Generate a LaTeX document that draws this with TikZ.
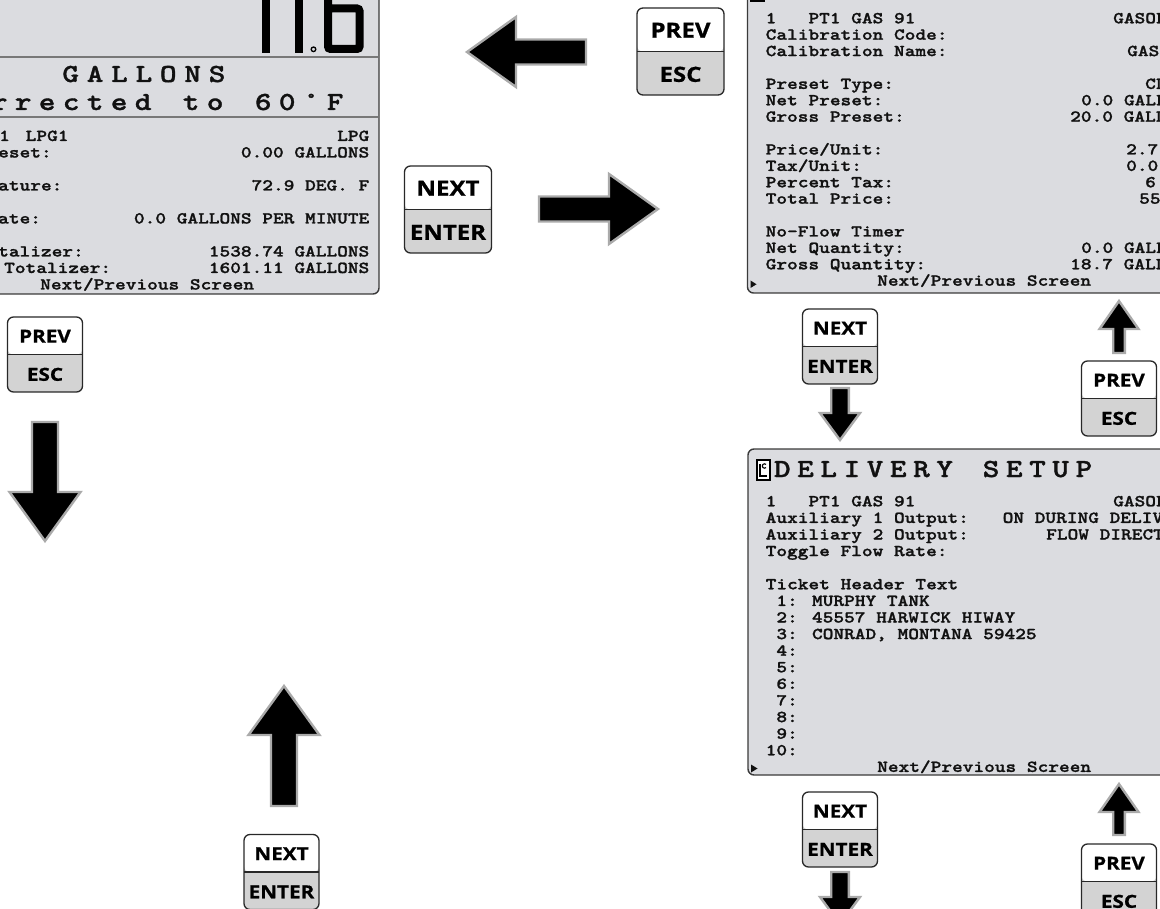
\documentclass[tikz,border=0pt]{standalone}
\usepackage{fontspec}
\usetikzlibrary{calc}
\newfontfamily\scrfont{lmmonolt10-bold}[Extension=.otf, FakeStretch=1.22, FakeBold=1.3]
\newfontfamily\keyfont{Open Sans}[FakeStretch=1.15, FakeBold=0.8]
\definecolor{scrbg}{RGB}{219,220,224}
\definecolor{scrline}{RGB}{58,58,58}
\definecolor{divgray}{RGB}{120,120,120}
\definecolor{lcdtext}{RGB}{17,17,17}
\definecolor{keygray}{RGB}{211,211,211}
\definecolor{keyline}{RGB}{40,40,40}
\definecolor{arrowgray}{RGB}{170,170,170}
\makeatletter
\newcommand\spaced[2]{\def\sp@w{#1}\sp@loop#2\relax}
\def\sp@loop#1{\ifx#1\relax\else\makebox[\sp@w][c]{#1}\expandafter\sp@loop\fi}
\makeatother
\tikzset{
  screen/.style={fill=scrbg, draw=scrline, line width=1.4pt, rounded corners=6pt},
  divider/.style={draw=divgray, line width=1.3pt},
  lcd/.style={font=\scrfont\fontsize{16.7pt}{16.5pt}\selectfont, text=lcdtext, inner sep=0pt, anchor=base west},
  lcdr/.style={lcd, anchor=base east},
  lcdtitle/.style={font=\scrfont\fontsize{26pt}{25pt}\selectfont, text=lcdtext, inner sep=0pt, anchor=base west},
  keybox/.style={draw=keyline, line width=1.3pt, rounded corners=6pt, fill=keygray, inner sep=0pt,
    path picture={\fill[white] (path picture bounding box.north west) rectangle (path picture bounding box.east);
      \draw[keyline, line width=1.1pt] (path picture bounding box.west) -- (path picture bounding box.east);}},
  keytxt/.style={text=black, inner sep=0pt},
  blockarrow/.style={fill=black, draw=arrowgray, line width=2.4pt, line join=miter},
}
\newcommand\keypad[6]{%
  \node[keybox, minimum width=#3pt, minimum height=#3pt] (#1) at (#2) {};
  \node[keytxt, font=\keyfont\bfseries\fontsize{#4pt}{#4pt}\selectfont] (#1-up) at ($(#1.center)!0.5!(#1.north)+(0,0.8)$) {#5};
  \node[keytxt, font=\keyfont\bfseries\fontsize{#4pt}{#4pt}\selectfont] (#1-dn) at ($(#1.center)!0.5!(#1.south)+(0,0.8)$) {#6};
}
\newcommand\barrow[7]{%
  \coordinate (#1) at (#2);
  \draw[blockarrow, shift={(#2)}, rotate=#3] (0,0) -- (-#7,#6) -- (-#7,#5) -- (-#4,#5) -- (-#4,-#5) -- (-#7,-#5) -- (-#7,-#6) -- cycle;
}
\begin{document}
\begin{tikzpicture}[x=1pt, y=-1pt]
\useasboundingbox (0,0) rectangle (1160,909);
\clip (0,0) rectangle (1160,909);

% ---------- left screen ----------
\draw[screen] (-20,-20) rectangle (379,294);
\draw[divider] (-20,57) -- (378.3,57);
\draw[divider] (-20,117) -- (378.3,117);
% seven segment 11.6
\fill[black] (262,-5) rectangle (270,52.7);
\fill[black] (295,-5) rectangle (303.3,52.7);
\draw[black, line width=1.3pt] (313.5,49.3) circle[radius=2.3];
\draw[black, line width=8pt, rounded corners=2.5pt] (328,-10) -- (328,49) -- (359.5,49) -- (359.5,8.5) -- (328,8.5);

\node[lcdtitle] (lgal) at (58.3,82) {\spaced{24.4pt}{GALLONS}};
\node[lcdtitle] (lcor) at (-13,110) {\spaced{24pt}{rrected~to~60°F}};

\node[lcd] (l0a) at (-1,141) {1};
\node[lcd] (l0b) at (25.5,141) {LPG1};
\node[lcdr] (l0c) at (369.5,141) {LPG};
\node[lcd] (l1a) at (-2,157.5) {eset:};
\node[lcdr] (l1c) at (369.5,157.5) {0.00 GALLONS};
\node[lcd] (l3a) at (-2,190.5) {ature:};
\node[lcdr] (l3c) at (369.5,190.5) {72.9 DEG. F};
\node[lcd] (l5a) at (-2,223.5) {ate:};
\node[lcdr] (l5c) at (369.5,223.5) {0.0 GALLONS PER MINUTE};
\node[lcd] (l7a) at (-2,256.5) {talizer:};
\node[lcdr] (l7c) at (369.5,256.5) {1538.74 GALLONS};
\node[lcd] (l8a) at (4,273) {Totalizer:};
\node[lcdr] (l8c) at (369.5,273) {1601.11 GALLONS};
\node[lcd] (l9) at (40,289.5) {Next/Previous Screen};

% ---------- top right screen ----------
\draw[screen] (747.5,-20) rectangle (1200,293);
\fill[black] (750,-2) rectangle (765,1.8);
\node[lcd] (r0a) at (765.5,23.3) {1~~~PT1 GAS 91};
\node[lcd] (r0c) at (1113,23.3) {GASOLINE};
\node[lcd] (r1a) at (765.5,39.7) {Calibration Code:};
\node[lcd] (r2a) at (765.5,56.1) {Calibration Name:};
\node[lcd] (r2c) at (1127,56.1) {GASOLINE};
\node[lcd] (r4a) at (765.5,88.9) {Preset Type:};
\node[lcd] (r4c) at (1145,88.9) {CL};
\node[lcd] (r5a) at (765.5,105.3) {Net Preset:};
\node[lcd] (r5c) at (1081,105.3) {0.0 GALLONS};
\node[lcd] (r6a) at (765.5,121.7) {Gross Preset:};
\node[lcd] (r6c) at (1070,121.7) {20.0 GALLONS};
\node[lcd] (r8a) at (765.5,154.5) {Price/Unit:};
\node[lcd] (r8c) at (1126,154.5) {2.7};
\node[lcd] (r9a) at (765.5,170.9) {Tax/Unit:};
\node[lcd] (r9c) at (1126,170.9) {0.0};
\node[lcd] (r10a) at (765.5,187.3) {Percent Tax:};
\node[lcd] (r10c) at (1145,187.3) {6};
\node[lcd] (r11a) at (765.5,203.7) {Total Price:};
\node[lcd] (r11c) at (1139,203.7) {55};
\node[lcd] (r13a) at (765.5,236.5) {No-Flow Timer};
\node[lcd] (r14a) at (765.5,252.9) {Net Quantity:};
\node[lcd] (r14c) at (1081,252.9) {0.0 GALLONS};
\node[lcd] (r15a) at (765.5,269.3) {Gross Quantity:};
\node[lcd] (r15c) at (1070,269.3) {18.7 GALLONS};
\fill[lcdtext] (750.5,280.5) -- (750.5,288) -- (756.5,284.25) -- cycle;
\node[lcd] (r16) at (877,285.7) {Next/Previous Screen};

% ---------- bottom right screen ----------
\draw[screen] (748,449) rectangle (1200,775);
\fill[black] (755.5,459) rectangle (770.5,481);
\fill[white] (757.5,461) rectangle (768.5,479);
\fill[black] (759,463.5) rectangle (761,477);
\fill[black] (759,475) rectangle (767,477);
\draw[black, line width=1.1pt] (764.5,466) ++(45:2.2) arc[start angle=45, end angle=315, radius=2.2];
\node[lcdtitle] (dtitle) at (770.5,477) {\spaced{23.2pt}{DELIVERY~SETUP}};
\node[lcd] (d0a) at (765.5,506.3) {1~~~PT1 GAS 91};
\node[lcd] (d0c) at (1113,506.3) {GASOLINE};
\node[lcd] (d1a) at (765.5,522.9) {Auxiliary 1 Output:};
\node[lcd] (d1c) at (1002.5,522.9) {ON DURING DELIVERY};
\node[lcd] (d2a) at (765.5,539.5) {Auxiliary 2 Output:};
\node[lcd] (d2c) at (1046,539.5) {FLOW DIRECTION};
\node[lcd] (d3a) at (765.5,556.1) {Toggle Flow Rate:};
\node[lcd] (d5a) at (765.5,589.3) {Ticket Header Text};
\node[lcd] (d6a) at (765.5,605.9) {~1: MURPHY TANK};
\node[lcd] (d7a) at (765.5,622.5) {~2: 45557 HARWICK HIWAY};
\node[lcd] (d8a) at (765.5,639.1) {~3: CONRAD, MONTANA 59425};
\node[lcd] (d9a) at (765.5,655.7) {~4:};
\node[lcd] (d10a) at (765.5,672.3) {~5:};
\node[lcd] (d11a) at (765.5,688.9) {~6:};
\node[lcd] (d12a) at (765.5,705.5) {~7:};
\node[lcd] (d13a) at (765.5,722.1) {~8:};
\node[lcd] (d14a) at (765.5,738.7) {~9:};
\node[lcd] (d15a) at (765.5,755.3) {10:};
\fill[lcdtext] (751,764.5) -- (751,772.5) -- (757.5,768.5) -- cycle;
\node[lcd] (d16) at (877,771.9) {Next/Previous Screen};

% ---------- keys ----------
\keypad{kprevtop}{680.5,51.5}{87}{20.9}{PREV}{ESC}
\keypad{knextmid}{448,209.5}{87}{20.9}{NEXT}{ENTER}
\keypad{kprevleft}{45,354.5}{75}{18}{PREV}{ESC}
\keypad{knextbot}{281.5,872}{75}{18}{NEXT}{ENTER}
\keypad{knextra}{840,346.5}{75}{18}{NEXT}{ENTER}
\keypad{kprevra}{1119,398.5}{75}{18}{PREV}{ESC}
\keypad{knextrb}{840,829.5}{75}{18}{NEXT}{ENTER}
\keypad{kprevrb}{1119,881.5}{75}{18}{PREV}{ESC}

% ---------- arrows ----------
\barrow{aleft}{467,52}{180}{119}{12.5}{35}{49}
\barrow{aright}{658,209}{0}{119}{12.5}{35}{49}
\barrow{adownl}{45,541}{-90}{119}{13}{35.5}{49}
\barrow{aupb}{284,686}{90}{120}{13}{35.5}{49}
\barrow{adownra}{840,440}{-90}{52}{8.8}{20}{27}
\barrow{aupra}{1119,301}{90}{52}{5.8}{19.5}{28}
\barrow{auprb}{1119,784}{90}{51}{5.8}{19.5}{28}
\barrow{adownrb}{840,924}{-90}{52}{8.8}{20}{27}
\end{tikzpicture}
\end{document}
